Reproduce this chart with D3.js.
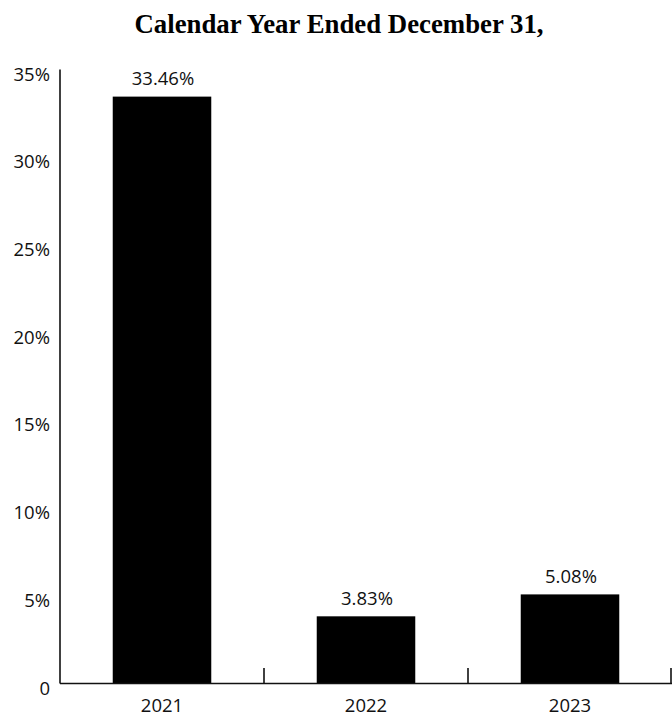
<!DOCTYPE html>
<html>
<head>
<meta charset="utf-8">
<script src="https://cdn.jsdelivr.net/npm/d3@7"></script>
<style>
  html, body { margin: 0; padding: 0; background: #fff; }
  svg { display: block; }
</style>
</head>
<body>
<svg id="chart" width="672" height="716"></svg>
<script>
const title = "Calendar Year Ended December 31,";
const categories = ["2021", "2022", "2023"];
const values = [33.46, 3.83, 5.08];
const valueLabels = ["33.46%", "3.83%", "5.08%"];
const yTicks = [0, 5, 10, 15, 20, 25, 30, 35];
const yTickLabels = ["0", "5%", "10%", "15%", "20%", "25%", "30%", "35%"];

(function () {
const svg = d3.select("#chart");
const W = 672;
const mLeft = 60, mRight = 672, mTop = 69.6, mBottom = 683.5;
const labelFont = "'Open Sans', sans-serif";
const labelSize = 18.5;

const x = d3.scaleBand().domain(categories).range([mLeft, mRight]).paddingInner(0.517).paddingOuter(0.2585);
const y = d3.scaleLinear().domain([0, 35]).range([mBottom, mTop]);

// Title
svg.append("text")
  .attr("x", 339).attr("y", 33)
  .attr("text-anchor", "middle")
  .attr("font-family", "'Liberation Serif', 'Times New Roman', serif")
  .attr("font-weight", "bold")
  .attr("font-size", 26.8)
  .attr("fill", "#000")
  .text(title);

// Bars
svg.selectAll("rect.bar").data(values).enter().append("rect")
  .attr("class", "bar")
  .attr("x", (d, i) => x(categories[i]))
  .attr("width", x.bandwidth())
  .attr("y", d => y(d))
  .attr("height", d => y(0) - y(d))
  .attr("fill", "#000");

// Value labels
svg.selectAll("text.val").data(values).enter().append("text")
  .attr("class", "val")
  .attr("x", (d, i) => x(categories[i]) + x.bandwidth() / 2 + 1)
  .attr("y", d => y(d) - 11.5)
  .attr("text-anchor", "middle")
  .attr("font-family", labelFont)
  .attr("font-size", labelSize)
  .attr("fill", "#111")
  .text((d, i) => valueLabels[i]);

// Y axis line
svg.append("line")
  .attr("x1", mLeft).attr("x2", mLeft)
  .attr("y1", y(35)).attr("y2", y(0))
  .attr("stroke", "#111").attr("stroke-width", 1.6);

// Y tick labels
svg.selectAll("text.ytick").data(yTicks).enter().append("text")
  .attr("class", "ytick")
  .attr("x", 50)
  .attr("y", d => y(d) + 11)
  .attr("text-anchor", "end")
  .attr("font-family", labelFont)
  .attr("font-size", labelSize)
  .attr("fill", "#111")
  .text((d, i) => yTickLabels[i]);

// X axis line
svg.append("line")
  .attr("x1", mLeft).attr("x2", mRight)
  .attr("y1", y(0)).attr("y2", y(0))
  .attr("stroke", "#111").attr("stroke-width", 1.6);

// X ticks at band boundaries (upward)
const boundaries = categories.map(c => x(c) + x.bandwidth() + x.step() * x.paddingInner() / 2);
svg.selectAll("line.xtick").data(boundaries).enter().append("line")
  .attr("class", "xtick")
  .attr("x1", d => Math.min(d, W - 1)).attr("x2", d => Math.min(d, W - 1))
  .attr("y1", y(0)).attr("y2", y(0) - 15.5)
  .attr("stroke", "#111").attr("stroke-width", 1.6);

// X labels
svg.selectAll("text.xlab").data(categories).enter().append("text")
  .attr("class", "xlab")
  .attr("x", d => x(d) + x.bandwidth() / 2)
  .attr("y", 712)
  .attr("text-anchor", "middle")
  .attr("font-family", labelFont)
  .attr("font-size", labelSize)
  .attr("fill", "#111")
  .text(d => d);
})();
</script>
</body>
</html>
